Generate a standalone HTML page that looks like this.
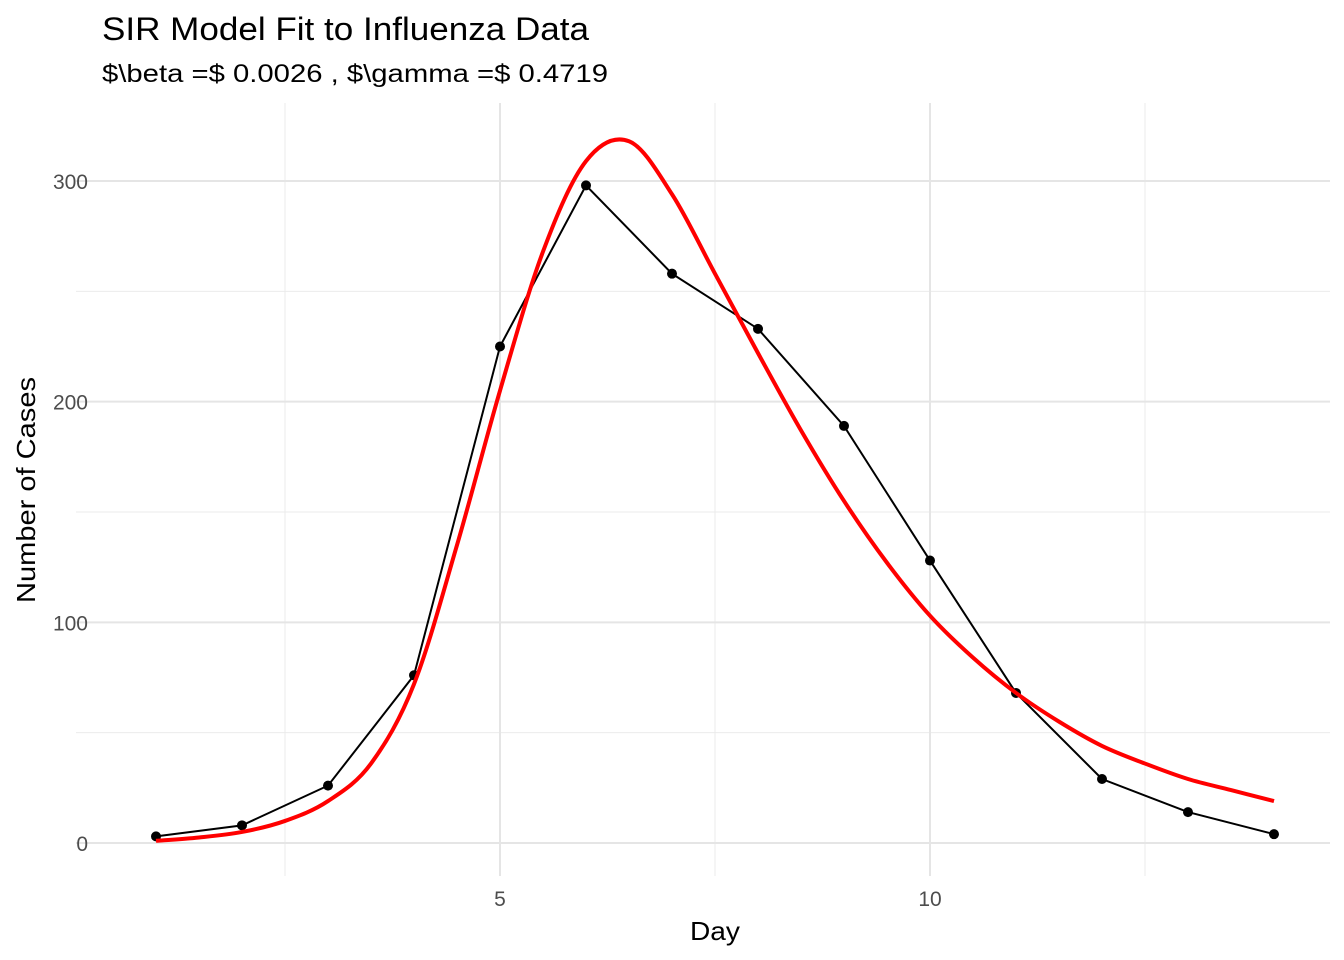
<!DOCTYPE html>
<html><head><meta charset="utf-8">
<style>
body{margin:0;background:#fff;}
svg{display:block;font-family:"Liberation Sans",sans-serif;}
</style></head>
<body>
<svg id="chart" width="1344" height="960">
<text x="102" y="40" font-size="32" textLength="487" lengthAdjust="spacingAndGlyphs" fill="#000">SIR Model Fit to Influenza Data</text>
<text x="102" y="82" font-size="25" textLength="506" lengthAdjust="spacingAndGlyphs" fill="#000">$\beta =$ 0.0026 , $\gamma =$ 0.4719</text>
<g id="grid"></g>
<g id="ticks"></g>
<g id="marks"></g>
<text x="715" y="940" font-size="26" textLength="50" lengthAdjust="spacingAndGlyphs" text-anchor="middle">Day</text>
<text transform="translate(35,490) rotate(-90)" font-size="26" textLength="226" lengthAdjust="spacingAndGlyphs" text-anchor="middle">Number of Cases</text>
</svg>
<script>
const days=[1,2,3,4,5,6,7,8,9,10,11,12,13,14];
const cases=[3,8,26,76,225,298,258,233,189,128,68,29,14,4];
const fitDays=[1,1.5,2,2.5,3,3.5,4,4.5,5,5.5,6,6.5,7,7.5,8,8.5,9,9.5,10,10.5,11,11.5,12,12.5,13,13.5,14];
const fitCases=[1,2.5,5,10,19,36,72,135,205,268,309,318,294,258,222,187,155,127,103,84,68,55,44,36,29,24,19];
const xMajor=[5,10],xMinor=[2.5,7.5,12.5];
const yMajor=[0,100,200,300],yMinor=[50,150,250];
const xs=v=>500+(v-5)*86, ys=v=>843-v*2.2067;
const NS="http://www.w3.org/2000/svg";
function mk(t,a,p){const e=document.createElementNS(NS,t);for(const k in a)e.setAttribute(k,a[k]);p.appendChild(e);return e;}
const g=document.getElementById('grid'),tk=document.getElementById('ticks'),m=document.getElementById('marks');
const L=76,R=1330,T=103,B=876;
yMinor.forEach(v=>{const e=mk('line',{x1:L,x2:R,y1:ys(v),y2:ys(v),stroke:'#ebebeb','stroke-width':1},g);
});
xMinor.forEach(v=>{const e=mk('line',{x1:xs(v),x2:xs(v),y1:T,y2:B,stroke:'#ebebeb','stroke-width':1},g);
});
yMajor.forEach(v=>{const e=mk('line',{x1:L,x2:R,y1:ys(v),y2:ys(v),stroke:'#e5e5e5','stroke-width':2},g);

const t=mk('text',{x:88,y:ys(v)+8,'font-size':21,fill:'#4d4d4d','text-anchor':'end'},tk);t.textContent=v;
});
xMajor.forEach(v=>{const e=mk('line',{x1:xs(v),x2:xs(v),y1:T,y2:B,stroke:'#e5e5e5','stroke-width':2},g);

const t=mk('text',{x:xs(v),y:906,'font-size':21,fill:'#4d4d4d','text-anchor':'middle'},tk);t.textContent=v;
});
function smooth(X,Y){const P=X.map((x,i)=>[xs(x),ys(Y[i])]);let d='M'+P[0][0]+','+P[0][1];
for(let i=0;i<P.length-1;i++){const p0=P[Math.max(0,i-1)],p1=P[i],p2=P[i+1],p3=P[Math.min(P.length-1,i+2)];
const c1=[p1[0]+(p2[0]-p0[0])/6,p1[1]+(p2[1]-p0[1])/6],c2=[p2[0]-(p3[0]-p1[0])/6,p2[1]-(p3[1]-p1[1])/6];
d+=` C${c1[0]},${c1[1]} ${c2[0]},${c2[1]} ${p2[0]},${p2[1]}`;}return d;}
const dl=mk('polyline',{points:days.map((d,i)=>xs(d)+','+ys(cases[i])).join(' '),fill:'none',stroke:'#000','stroke-width':2},m);

days.forEach((d,i)=>{const c=mk('circle',{cx:xs(d),cy:ys(cases[i]),r:5,fill:'#000'},m);
});
const f=mk('path',{d:smooth(fitDays,fitCases),fill:'none',stroke:'#ff0000','stroke-width':4},m);

</script>
</body></html>
